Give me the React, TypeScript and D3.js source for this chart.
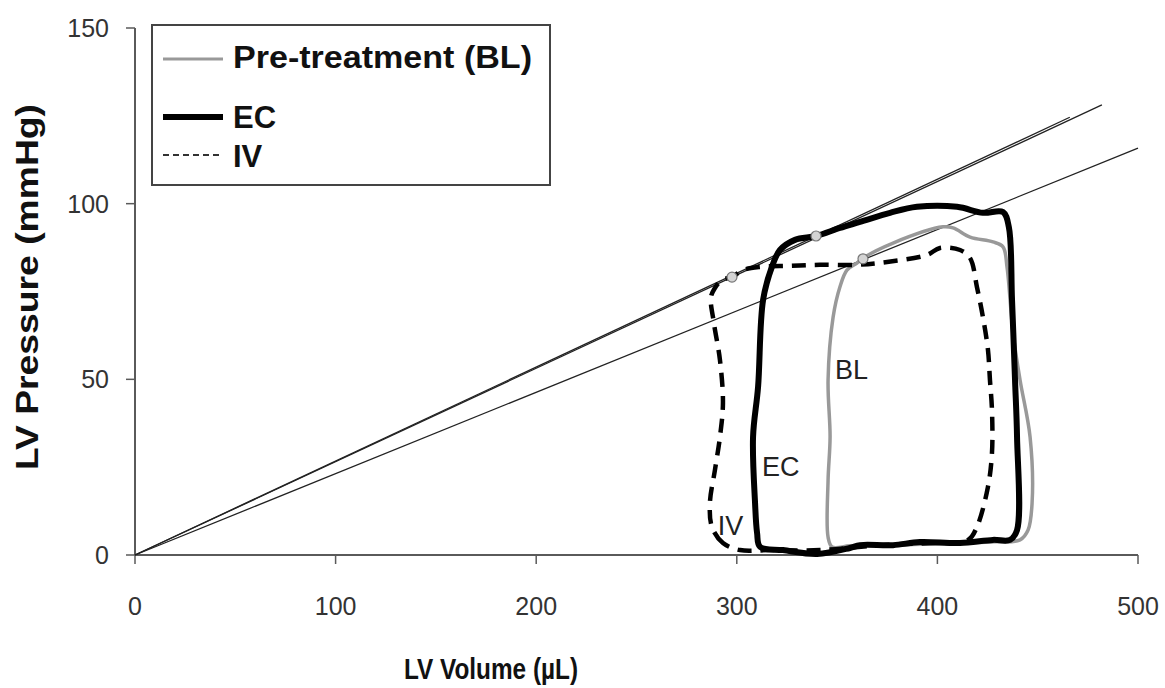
import React from "react";
import * as d3 from "d3";

// ---- Data (LV volume in µL, LV pressure in mmHg) ----
const xTicks = [0, 100, 200, 300, 400, 500];
const yTicks = [0, 50, 100, 150];

const blLoop: [number, number][] = [
  [347.5, 2.3], [345.5, 5.1], [345.5, 21.3], [346.5, 33.6], [345.5, 49.8],
  [348.0, 67.7], [351.4, 76.3], [354.9, 81.1], [359.9, 83.1], [362.9, 84.5],
  [377.9, 88.8], [402.8, 93.4], [407.8, 93.1], [416.3, 90.5], [427.7, 89.1],
  [432.7, 87.7], [434.7, 82.0], [437.7, 63.2], [441.2, 49.8], [446.2, 33.6],
  [447.2, 14.8], [445.2, 7.1], [441.2, 4.3], [426.2, 3.7], [396.3, 3.1],
  [371.4, 2.8], [356.4, 2.6],
];

const ecLoop: [number, number][] = [
  [310.1, 6.3], [309.1, 14.8], [308.1, 33.6], [310.6, 47.8], [313.1, 72.6],
  [317.5, 82.0], [321.5, 86.8], [329.0, 89.7], [339.5, 90.8], [351.4, 93.1],
  [361.4, 94.8], [376.4, 97.4], [389.8, 99.1], [409.8, 99.1], [422.7, 97.4],
  [432.7, 97.6], [435.6, 93.4], [437.2, 72.6], [438.7, 49.8], [439.7, 33.6],
  [439.7, 7.1], [436.2, 4.3], [427.7, 4.3], [411.3, 3.4], [391.3, 3.7],
  [377.9, 2.8], [361.4, 2.8], [356.4, 2.0], [340.0, 0.3], [323.0, 1.4],
  [311.6, 2.3],
];

const ivLoop: [number, number][] = [
  [301.6, 1.4], [293.1, 3.4], [287.6, 8.0], [286.6, 14.8], [289.1, 24.2],
  [291.6, 33.6], [293.1, 43.3], [291.6, 55.5], [288.6, 66.0], [287.1, 73.4],
  [289.1, 76.0], [292.6, 78.3], [297.6, 79.1], [303.1, 81.1], [311.6, 82.0],
  [326.5, 82.3], [341.5, 82.6], [359.9, 82.6], [374.9, 83.4], [394.8, 85.4],
  [401.3, 87.4], [411.3, 86.8], [416.3, 84.5], [419.7, 76.3], [422.7, 67.7],
  [425.2, 58.4], [426.2, 49.8], [427.2, 41.3], [427.2, 29.0], [425.2, 19.4],
  [419.7, 8.0], [415.3, 4.3], [396.3, 3.4], [371.4, 2.8], [341.5, 1.4],
  [316.5, 1.4],
];

// End-systolic points and ESPVR line endpoints
const esPoints: [number, number][] = [
  [297.6, 79.1], // IV
  [339.5, 90.8], // EC
  [362.9, 84.3], // BL
];
const espvrEnds: [number, number][] = [
  [466, 124.6], // EC
  [482, 128.1], // IV
  [500, 115.8], // BL
];

const loopLabels = [
  { text: "BL", v: 349, p: 50 },
  { text: "EC", v: 312.5, p: 22.5 },
  { text: "IV", v: 290.5, p: 5.7 },
];

const W = 1165;
const H = 688;

export default function App() {
  const x = d3.scaleLinear().domain([0, 500]).range([135, 1138]);
  const y = d3.scaleLinear().domain([0, 150]).range([555, 28]);

  const loopGen = d3
    .line<[number, number]>()
    .x((d) => x(d[0]))
    .y((d) => y(d[1]))
    .curve(d3.curveCatmullRomClosed.alpha(0.5));

  const font = "Liberation Sans, Arial, Helvetica, sans-serif";
  const axisColor = "#5a5a5a";
  const textColor = "#333";

  return (
    <svg
      width={W}
      height={H}
      style={{ position: "absolute", left: 0, top: 0, background: "#fff" }}
      fontFamily={font}
    >
      <rect x={0} y={0} width={W} height={H} fill="#fff" />

      {/* axes */}
      <line x1={x(0)} y1={y(0)} x2={x(500)} y2={y(0)} stroke={axisColor} strokeWidth={2} />
      <line x1={x(0)} y1={y(0)} x2={x(0)} y2={y(150)} stroke={axisColor} strokeWidth={2} />
      {xTicks.map((t) => (
        <g key={"xt" + t}>
          <line x1={x(t)} y1={y(0)} x2={x(t)} y2={y(0) + 9} stroke={axisColor} strokeWidth={1.5} />
          <text
            x={x(t)}
            y={615}
            textAnchor="middle"
            fontSize={25}
            fill={textColor}
          >
            {t}
          </text>
        </g>
      ))}
      {yTicks.map((t) => (
        <g key={"yt" + t}>
          <line x1={x(0) - 9} y1={y(t)} x2={x(0)} y2={y(t)} stroke={axisColor} strokeWidth={1.5} />
          <text
            x={109}
            y={y(t) + 9}
            textAnchor="end"
            fontSize={25}
            fill={textColor}
          >
            {t}
          </text>
        </g>
      ))}

      {/* axis titles */}
      <text
        x={491}
        y={679}
        textAnchor="middle"
        fontSize={30}
        fontWeight="bold"
        fill="#111"
        textLength={174}
        lengthAdjust="spacingAndGlyphs"
      >
        LV Volume (µL)
      </text>
      <text
        transform={`translate(38, 287) rotate(-90)`}
        textAnchor="middle"
        fontSize={31}
        fontWeight="bold"
        fill="#111"
        textLength={366}
        lengthAdjust="spacingAndGlyphs"
      >
        LV Pressure (mmHg)
      </text>

      {/* ESPVR lines */}
      {espvrEnds.map((e, i) => (
        <line
          key={"es" + i}
          x1={x(0)}
          y1={y(0)}
          x2={x(e[0])}
          y2={y(e[1])}
          stroke="#222"
          strokeWidth={1.3}
        />
      ))}

      {/* loops */}
      <path d={loopGen(blLoop) || ""} fill="none" stroke="#999" strokeWidth={3.5} strokeLinejoin="round" />
      <path
        d={loopGen(ivLoop) || ""}
        fill="none"
        stroke="#000"
        strokeWidth={4.5}
        strokeDasharray="14,9"
      />
      <path d={loopGen(ecLoop) || ""} fill="none" stroke="#000" strokeWidth={6} strokeLinejoin="round" />

      {/* end-systolic points */}
      {esPoints.map((p, i) => (
        <circle key={"pt" + i} cx={x(p[0])} cy={y(p[1])} r={5} fill="#d4d4d4" stroke="#777" strokeWidth={1.2} />
      ))}

      {/* loop labels */}
      {loopLabels.map((l) => (
        <text key={l.text} x={x(l.v)} y={y(l.p)} fontSize={27} fill="#222">
          {l.text}
        </text>
      ))}

      {/* legend */}
      <rect x={152} y={25} width={398} height={160} fill="#fff" stroke="#444" strokeWidth={2} />
      <line x1={163} y1={59} x2={223} y2={59} stroke="#999" strokeWidth={3} />
      <text x={233} y={68} fontSize={31} fontWeight="bold" fill="#111" textLength={299} lengthAdjust="spacingAndGlyphs">
        Pre-treatment (BL)
      </text>
      <line x1={163} y1={117} x2={223} y2={117} stroke="#000" strokeWidth={6} />
      <text x={233} y={128} fontSize={31} fontWeight="bold" fill="#111">
        EC
      </text>
      <line x1={163} y1={155} x2={223} y2={155} stroke="#333" strokeWidth={1.8} strokeDasharray="6,4" />
      <text x={233} y={167} fontSize={31} fontWeight="bold" fill="#111">
        IV
      </text>
    </svg>
  );
}
